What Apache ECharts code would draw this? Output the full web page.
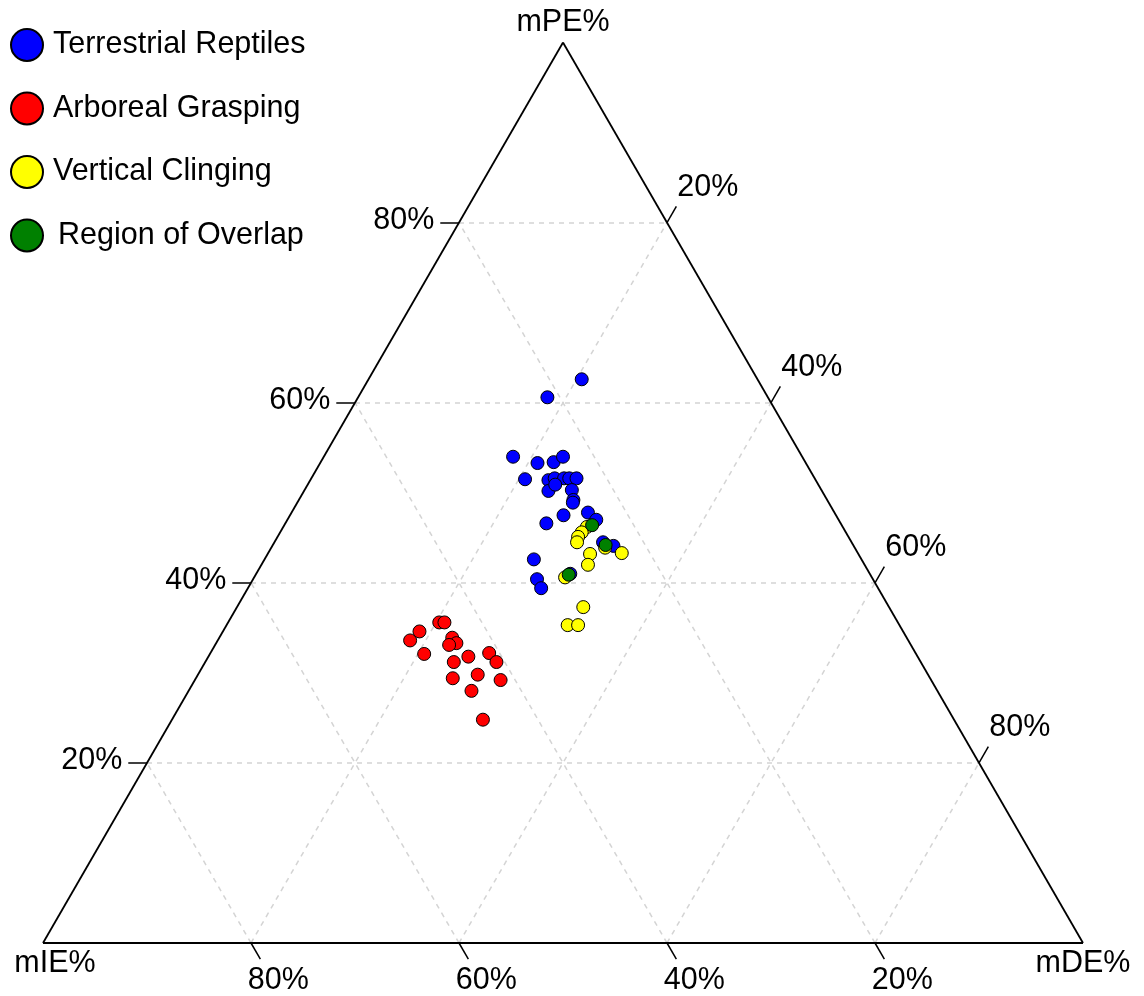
<!DOCTYPE html>
<html><head><meta charset="utf-8">
<script src="https://cdn.jsdelivr.net/npm/echarts@6/dist/echarts.min.js"></script>
<style>html,body{margin:0;padding:0;background:#fff}#c{width:1144px;height:996px}</style>
</head><body><div id="c"></div>
<script>
// Ternary data: mPE% and mDE% (mIE% = 100 - mPE - mDE)
const groupNames = ['Terrestrial Reptiles', 'Arboreal Grasping', 'Vertical Clinging', 'Region of Overlap'];
const groupColors = ['#0000ff', '#ff0000', '#ffff00', '#008000'];

const reptilesPE = [62.6, 60.6, 54.0, 53.3, 53.4, 54.0, 51.5, 51.4, 51.6, 51.6, 51.6, 51.6, 50.2, 50.9, 50.3, 49.2, 48.9, 47.5, 46.6, 47.8, 47.0, 44.5, 44.1, 42.6, 40.4, 39.4, 41.0];
const reptilesDE = [20.5, 18.2, 18.2, 20.9, 22.4, 23.0, 20.6, 22.9, 23.4, 24.3, 24.8, 25.5, 23.5, 23.8, 25.7, 26.4, 26.5, 26.3, 25.1, 28.5, 29.7, 31.6, 32.8, 25.9, 27.3, 28.2, 30.2];

const arborealPE = [35.6, 35.6, 34.6, 33.6, 32.1, 33.9, 33.3, 33.1, 31.2, 31.8, 32.2, 31.2, 29.4, 29.8, 29.2, 28.0, 24.8];
const arborealDE = [20.3, 20.8, 18.9, 18.5, 20.6, 22.4, 23.1, 22.5, 23.9, 25.0, 26.8, 28.0, 24.7, 26.9, 29.4, 27.2, 29.9];

const clingingPE = [46.2, 45.6, 45.1, 44.5, 43.9, 43.3, 43.2, 42.0, 40.6, 37.3, 35.3, 35.3];
const clingingDE = [29.2, 29.0, 28.9, 29.1, 32.1, 34.0, 31.0, 31.4, 29.9, 33.3, 32.8, 33.8];

const overlapPE = [46.4, 44.2, 40.9];
const overlapDE = [29.6, 32.0, 30.1];

const gridLevels = [20, 40, 60, 80];
const tickLabels = ['20%', '40%', '60%', '80%'];
const axisNames = ['mPE%', 'mIE%', 'mDE%'];

// ternary -> cartesian (data units of the hidden axes)
function toXY(pe, de) { return [de + pe / 2, pe]; }

const FONT = "'Liberation Sans', Arial, Helvetica, sans-serif";
const FS = 30.5;
const TICK = 1.8;

const outline = [[toXY(0, 0), toXY(100, 0)], [toXY(100, 0), toXY(0, 100)], [toXY(0, 100), toXY(0, 0)]];
const gridSegs = [];
const tickSegs = [];
const leftLabels = [], rightLabels = [], bottomLabels = [];
gridLevels.forEach((k, i) => {
  gridSegs.push([toXY(k, 0), toXY(k, 100 - k)]);        // mPE = k
  gridSegs.push([toXY(0, k), toXY(100 - k, k)]);        // mDE = k
  gridSegs.push([toXY(0, 100 - k), toXY(100 - k, 0)]);  // mIE = k
  tickSegs.push([toXY(k, 0), toXY(k, -TICK)]);
  tickSegs.push([toXY(100 - k, k), toXY(100 - k + TICK, k)]);
  tickSegs.push([toXY(0, 100 - k), toXY(-TICK, 100 - k + TICK)]);
  leftLabels.push({ name: tickLabels[i], value: toXY(k, -TICK) });
  rightLabels.push({ name: tickLabels[i], value: toXY(100 - k + TICK, k) });
  bottomLabels.push({ name: tickLabels[i], value: toXY(-TICK, 100 - k + TICK) });
});

function pts(peArr, deArr) { return peArr.map((pe, i) => toXY(pe, deArr[i])); }
const groupData = [pts(reptilesPE, reptilesDE), pts(arborealPE, arborealDE), pts(clingingPE, clingingDE), pts(overlapPE, overlapDE)];

function labelSeries(data, label) {
  return {
    type: 'scatter', data: data, symbolSize: 0, silent: true, clip: false, z: 5,
    itemStyle: { opacity: 1, color: '#000' },
    label: Object.assign({ show: true, formatter: p => p.name, color: '#000', opacity: 1, fontSize: FS, fontFamily: FONT }, label)
  };
}

const series = [
  { type: 'lines', coordinateSystem: 'cartesian2d', data: gridSegs.map(c => ({ coords: c })), silent: true, clip: false, z: 1,
    lineStyle: { color: '#d4d4d4', width: 1.5, type: [5, 5], opacity: 1 } },
  { type: 'lines', coordinateSystem: 'cartesian2d', data: outline.map(c => ({ coords: c })), silent: true, clip: false, z: 2,
    lineStyle: { color: '#000', width: 1.8, opacity: 1 } },
  { type: 'lines', coordinateSystem: 'cartesian2d', data: tickSegs.map(c => ({ coords: c })), silent: true, clip: false, z: 2,
    lineStyle: { color: '#000', width: 1.5, opacity: 1 } },
  labelSeries(leftLabels, { position: 'left', distance: 6, offset: [0, -2] }),
  labelSeries(rightLabels, { position: 'right', distance: 1, offset: [0, -19] }),
  labelSeries(bottomLabels, { position: 'inside', offset: [18, 21] }),
  labelSeries([{ name: axisNames[0], value: toXY(100, 0) }], { position: 'inside', offset: [0, -20] }),
  labelSeries([{ name: axisNames[1], value: toXY(0, 0) }], { position: 'inside', offset: [12, 21] }),
  labelSeries([{ name: axisNames[2], value: toXY(0, 100) }], { position: 'inside', offset: [0, 21] })
];
groupNames.forEach((n, i) => {
  series.push({
    type: 'scatter', name: n, data: groupData[i], symbol: 'circle', symbolSize: 13, z: 10 + i,
    itemStyle: { color: groupColors[i], borderColor: '#000', borderWidth: 1, opacity: 1 }
  });
});

const chart = echarts.init(document.getElementById('c'), null, { renderer: 'canvas' });
chart.setOption({
  animation: false,
  backgroundColor: '#fff',
  grid: { left: 43, right: 61, top: 42.5, bottom: 53 },
  xAxis: { type: 'value', min: 0, max: 100, show: false },
  yAxis: { type: 'value', min: 0, max: 100, show: false },
  legend: {
    orient: 'vertical', left: 5, top: 23, itemWidth: 32, itemHeight: 32, itemGap: 29.5,
    icon: 'circle', selectedMode: false,
    textStyle: { fontSize: FS, fontFamily: FONT, color: '#000', lineHeight: 32, padding: [0, 0, 0, 5] },
    data: groupNames.map((n, i) => i === 3 ? { name: n, textStyle: { padding: [0, 0, 0, 10] } } : { name: n })
  },
  series: series
});
</script>
</body></html>
